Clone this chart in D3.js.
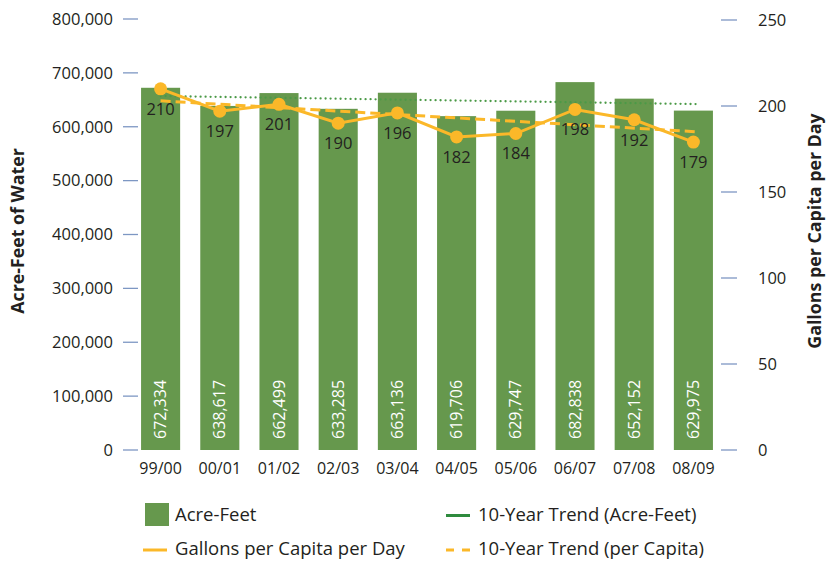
<!DOCTYPE html>
<html><head><meta charset="utf-8">
<script src="https://cdn.jsdelivr.net/npm/d3@7"></script>
<style>
body{margin:0;background:#fff;}
text{font-family:"Open Sans",sans-serif;fill:#231f20;}
</style></head>
<body><svg id="c" width="838" height="563"></svg>
<script>
const categories = ["99/00","00/01","01/02","02/03","03/04","04/05","05/06","06/07","07/08","08/09"];
const acreFeet = [672334,638617,662499,633285,663136,619706,629747,682838,652152,629975];
const gpcd = [210,197,201,190,196,182,184,198,192,179];
const acreTrend = [657000,642000];   // start / end of 10-year trend
const gpcdTrend = [203,185];
const leftTicks = [0,100000,200000,300000,400000,500000,600000,700000,800000];
const rightTicks = [0,50,100,150,200,250];

const svg = d3.select("#c");
const green = "#66984d", orange = "#fbb829", tickCol = "#7d97c3";

const x = d3.scaleBand().domain(categories).range([131,723]).paddingInner(0.34).paddingOuter(0.17);
const yL = d3.scaleLinear().domain([0,800000]).range([450,19]);
const yR = d3.scaleLinear().domain([0,250]).range([450,20]);
const cx = d => x(d) + x.bandwidth()/2;

// left axis
const gl = svg.append("g");
leftTicks.forEach(t=>{
  gl.append("line").attr("x1",123).attr("x2",138).attr("y1",yL(t)).attr("y2",yL(t)).attr("stroke",tickCol).attr("stroke-width",1.3);
  gl.append("text").attr("x",113).attr("y",yL(t)).attr("dy","0.35em").attr("text-anchor","end").attr("font-size",16.5).text(d3.format(",")(t));
});
// right axis
rightTicks.forEach(t=>{
  gl.append("line").attr("x1",721).attr("x2",737).attr("y1",yR(t)).attr("y2",yR(t)).attr("stroke",tickCol).attr("stroke-width",1.3);
  gl.append("text").attr("x",758).attr("y",yR(t)).attr("dy","0.35em").attr("text-anchor","start").attr("font-size",16.5).text(t);
});

// axis titles
svg.append("text").attr("transform","translate(18,231) rotate(-90)").attr("text-anchor","middle").attr("dy","0.35em")
  .attr("font-size",17.8).attr("font-weight","bold").text("Acre-Feet of Water");
svg.append("text").attr("transform","translate(815,231) rotate(-90)").attr("text-anchor","middle").attr("dy","0.35em")
  .attr("font-size",17.8).attr("font-weight","bold").text("Gallons per Capita per Day");

// bars
svg.append("g").selectAll("rect").data(categories).join("rect")
  .attr("x",d=>x(d)).attr("width",x.bandwidth())
  .attr("y",(d,i)=>yL(acreFeet[i])).attr("height",(d,i)=>yL(0)-yL(acreFeet[i]))
  .attr("fill",green);
svg.append("g").selectAll("text").data(categories).join("text")
  .attr("transform",d=>`translate(${cx(d)},439) rotate(-90)`)
  .attr("dy","0.35em").attr("text-anchor","start").attr("font-size",16)
  .style("fill","#fff").text((d,i)=>d3.format(",")(acreFeet[i]));

// x labels
svg.append("g").selectAll("text").data(categories).join("text")
  .attr("x",d=>cx(d)).attr("y",468).attr("dy","0.35em").attr("text-anchor","middle").attr("font-size",16).text(d=>d);

// trend lines
const first = categories[0], last = categories[categories.length-1];
svg.append("line").attr("x1",cx(first)).attr("x2",cx(last)+4).attr("y1",yL(acreTrend[0])).attr("y2",yL(acreTrend[1]))
  .attr("stroke","#4b9a47").attr("stroke-width",2.3).attr("stroke-dasharray","0 5").attr("stroke-linecap","round");
svg.append("line").attr("x1",cx(first)).attr("x2",cx(last)+4).attr("y1",yR(gpcdTrend[0])).attr("y2",yR(gpcdTrend[1]))
  .attr("stroke",orange).attr("stroke-width",3).attr("stroke-dasharray","10 5");

// per capita line
const line = d3.line().x((d,i)=>cx(categories[i])).y(d=>yR(d));
svg.append("path").datum(gpcd).attr("d",line).attr("fill","none").attr("stroke",orange).attr("stroke-width",3);
svg.append("g").selectAll("circle").data(gpcd).join("circle")
  .attr("cx",(d,i)=>cx(categories[i])).attr("cy",d=>yR(d)).attr("r",6.5).attr("fill",orange);
svg.append("g").selectAll("text").data(gpcd).join("text")
  .attr("x",(d,i)=>cx(categories[i])).attr("y",d=>yR(d)+20).attr("dy","0.35em").attr("text-anchor","middle").attr("font-size",16.5).text(d=>d);

// legend
const lg = svg.append("g");
lg.append("rect").attr("x",145).attr("y",503).attr("width",24).attr("height",23).attr("fill",green);
lg.append("text").attr("x",175).attr("y",515).attr("dy","0.35em").attr("font-size",18.5).text("Acre-Feet");
lg.append("line").attr("x1",143).attr("x2",167).attr("y1",550).attr("y2",550).attr("stroke",orange).attr("stroke-width",3);
lg.append("text").attr("x",175).attr("y",549).attr("dy","0.35em").attr("font-size",18.5).text("Gallons per Capita per Day");
lg.append("line").attr("x1",446).attr("x2",470).attr("y1",515.5).attr("y2",515.5).attr("stroke","#2e8b3e").attr("stroke-width",3);
lg.append("text").attr("x",478).attr("y",515).attr("dy","0.35em").attr("font-size",18.5).text("10-Year Trend (Acre-Feet)");
lg.append("line").attr("x1",446).attr("x2",470).attr("y1",550).attr("y2",550).attr("stroke",orange).attr("stroke-width",3).attr("stroke-dasharray","8 8");
lg.append("text").attr("x",478).attr("y",549).attr("dy","0.35em").attr("font-size",18.5).text("10-Year Trend (per Capita)");
</script></body></html>
